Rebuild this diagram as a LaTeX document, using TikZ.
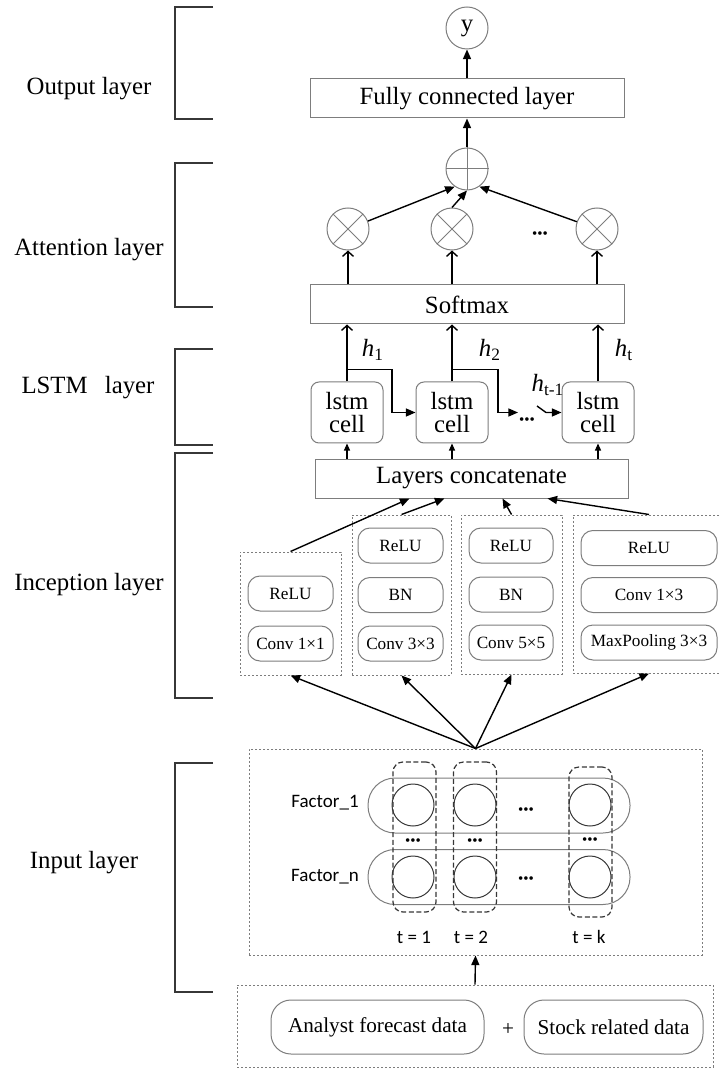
\documentclass[tikz,border=0pt]{standalone}
\usepackage{fontspec}
\setmainfont{Liberation Serif}
\newfontfamily\carlito{Carlito}
\usetikzlibrary{arrows.meta,calc}
\definecolor{bgray}{RGB}{125,125,125}
\definecolor{dgray}{RGB}{55,55,55}
\begin{document}
\begin{tikzpicture}[x=0.5pt,y=-0.5pt,
  big/.style={font=\fontsize{12.4}{14}\selectfont},
  small/.style={font=\fontsize{8.6}{10}\selectfont},
  wbox/.style={draw=bgray,line width=0.5pt,inner sep=0pt,big},
  cellbox/.style={draw=bgray,line width=0.5pt,inner sep=0pt,rounded corners=4pt,minimum width=36pt,minimum height=30.5pt,align=center,font=\fontsize{12.4}{11.5}\selectfont},
  dbox/.style={draw=bgray,line width=0.5pt,dash pattern=on 1.2pt off 0.8pt,inner sep=0pt},
  ibox/.style={draw=bgray,line width=0.5pt,rounded corners=6pt,inner sep=0pt,small,minimum height=17.5pt},
  circ/.style={circle,draw=bgray,line width=0.5pt,minimum size=21pt,inner sep=0pt},
  incirc/.style={circle,draw=dgray,line width=0.5pt,minimum size=21pt,inner sep=0pt},
  rowbox/.style={draw=bgray,line width=0.5pt,rounded corners=13.5pt,minimum width=131pt,minimum height=27.5pt,inner sep=0pt},
  colbox/.style={draw=dgray,line width=0.6pt,dash pattern=on 2.5pt off 1.3pt,rounded corners=5pt,minimum width=21.5pt,minimum height=75pt,inner sep=0pt},
  databox/.style={draw=bgray,line width=0.5pt,rounded corners=10pt,minimum height=27pt,inner sep=0pt,font=\fontsize{10.6}{12}\selectfont},
  arr/.style={-{Triangle[length=4.8pt,width=4pt]},line width=0.7pt},
  sarr/.style={-{Triangle[length=3.5pt,width=3pt]},line width=0.6pt},
  oarr/.style={-{Straight Barb[length=2.5pt,width=5.5pt]},line width=0.7pt},
  brk/.style={line width=0.8pt,draw=dgray},
  dots/.style={font=\fontsize{7.5}{8}\selectfont,inner sep=0pt,anchor=base},
  sans/.style={font=\carlito\fontsize{9.5}{11}\selectfont,inner sep=0pt},
  hlab/.style={font=\fontsize{12.4}{14}\selectfont,inner sep=0pt}
]
\useasboundingbox (0,0) rectangle (720,1068);
\begin{scope}
\clip (0,0) rectangle (720,1068);

% ---------- left brackets and layer names ----------
\draw[brk] (213,7) -- (175,7) -- (175,119) -- (213,119);
\draw[brk] (213,163) -- (175,163) -- (175,307) -- (213,307);
\draw[brk] (213,349) -- (175,349) -- (175,445) -- (213,445);
\draw[brk] (213,453) -- (175,453) -- (175,698) -- (213,698);
\draw[brk] (213,763) -- (175,763) -- (175,992) -- (213,992);
\node[big] (lout) at (89,89) {Output layer};
\node[big] (latt) at (89,250) {Attention layer};
\node[big] (llstm) at (88,388) {LSTM\hspace{5.5pt} layer};
\node[big] (linc) at (89,585) {Inception layer};
\node[big] (linp) at (84,863) {Input layer};

% ---------- output layer ----------
\node[circ,big] (y) at (467,28) {y};
\node[wbox,minimum width=157pt,minimum height=19.5pt] (fc) at (467,98.5) {Fully connected layer};

% ---------- attention layer ----------
\node[circ] (op) at (467,169) {};
\draw[bgray,line width=0.5pt] (op.north) -- (op.south) (op.west) -- (op.east);
\node[circ] (ot1) at (348,229) {};
\node[circ] (ot2) at (452,229) {};
\node[circ] (ot3) at (597,229) {};
\foreach \o in {ot1,ot2,ot3}
  \draw[bgray,line width=0.5pt] (\o.45) -- (\o.225) (\o.135) -- (\o.-45);
\node[dots] (adots) at (540,239) {•••};
\node[wbox,minimum width=157pt,minimum height=19.5pt] (sm) at (467,304.5) {Softmax};

\draw[arr] (fc.north) -- (y.south);
\draw[arr] (op.north) -- (fc.south);
\draw[arr] (ot1) -- (op.235);
\draw[arr] (ot2.north) -- (op.south);
\draw[arr] (ot3) -- (op.-55);
\foreach \o in {ot1,ot2,ot3}
  \draw[oarr] (\o.south |- sm.north) -- (\o.south);

% ---------- LSTM layer ----------
\node[cellbox] (c1) at (347,412.5) {lstm\\cell};
\node[cellbox] (c2) at (452,412.5) {lstm\\cell};
\node[cellbox] (c3) at (598,412.5) {lstm\\cell};
\foreach \c in {c1,c2,c3}
  \draw[oarr] (\c.north) -- (\c.north |- sm.south);
\node[hlab] (h1) at (373,350) {\textit{h}\textsubscript{1}};
\node[hlab] (h2) at (490,350) {\textit{h}\textsubscript{2}};
\node[hlab] (ht) at (624,350) {\textit{h}\textsubscript{t}};
\node[hlab] (htm) at (548,385) {\textit{h}\textsubscript{t-1}};
\node[dots] (ldots) at (527,424) {•••};
\coordinate (d1) at (518,412.5);
\coordinate (d2) at (537,406);
\draw[arr] ([yshift=6pt]c1.north) -- ++(45,0) |- (c2.west);
\draw[arr] ([yshift=6pt]c2.north) -- ++(46,0) |- (d1);
\draw[arr] (d2) -- (546,412.5) -- (c3.west);

\node[wbox,minimum width=156.5pt,minimum height=19.5pt] (cc) at (471.5,478.5) {Layers concatenate};
\foreach \c in {c1,c2,c3}
  \draw[sarr] (\c.south |- cc.north) -- (\c.south);

% ---------- inception layer ----------
\node[dbox,minimum width=50.5pt,minimum height=61.5pt] (b1) at (290.5,613.5) {};
\node[dbox,minimum width=49.5pt,minimum height=80pt] (b2) at (401.5,595) {};
\node[dbox,minimum width=50.5pt,minimum height=79.5pt] (b3) at (511.5,594.5) {};
\node[dbox,minimum width=76pt,minimum height=79pt] (b4) at (649,594) {};

\node[ibox,minimum width=42.5pt] (b1r) at (290.5,593.5) {ReLU};
\node[ibox,minimum width=42.5pt] (b1c) at (290.5,643.5) {Conv 1×1};
\node[ibox,minimum width=42.5pt] (b2r) at (400.5,545.5) {ReLU};
\node[ibox,minimum width=42.5pt] (b2b) at (400.5,595) {BN};
\node[ibox,minimum width=42.5pt] (b2c) at (400.5,643.5) {Conv 3×3};
\node[ibox,minimum width=42pt] (b3r) at (511,545.5) {ReLU};
\node[ibox,minimum width=42pt] (b3b) at (511,594.5) {BN};
\node[ibox,minimum width=42pt] (b3c) at (511,642.5) {Conv 5×5};
\node[ibox,minimum width=68pt] (b4r) at (649,548) {ReLU};
\node[ibox,minimum width=68pt] (b4c) at (649,595) {Conv 1×3};
\node[ibox,minimum width=68pt] (b4m) at (649,642.5) {MaxPooling 3×3};

\draw[arr] (b1.north) -- ($(cc.south west)+(95,0)$);
\draw[arr] (b2.north) -- ($(cc.south west)+(130,0)$);
\draw[arr] (b3.north) -- ($(cc.south west)+(188,0)$);
\draw[arr] (b4.north) -- ($(cc.south west)+(233,0)$);

% ---------- input layer ----------
\node[dbox,minimum width=226.5pt,minimum height=103pt] (inp) at (475.5,852) {};
\node[rowbox] (row1) at (499,805.5) {};
\node[rowbox] (rown) at (499,877) {};
\node[incirc] (x11) at (413,805) {};
\node[incirc] (x12) at (475,805) {};
\node[incirc] (x1k) at (590,805) {};
\node[incirc] (xn1) at (413,877) {};
\node[incirc] (xn2) at (475,877) {};
\node[incirc] (xnk) at (590,877) {};
\node[colbox] (t1) at (414.5,837) {};
\node[colbox] (t2) at (475,837) {};
\node[colbox] (tk) at (590.5,842) {};
\node[dots] (rd1) at (526,814) {•••};
\node[dots] (rdn) at (526,883) {•••};
\node[dots] (cd1) at (413,845) {•••};
\node[dots] (cd2) at (475,845) {•••};
\node[dots] (cdk) at (590,844) {•••};
\node[sans] (f1) at (325,803) {Factor\_1};
\node[sans] (fn) at (325,877) {Factor\_n};
\node[sans] (lt1) at (414,937) {t = 1};
\node[sans] (lt2) at (471,937) {t = 2};
\node[sans] (ltk) at (589,937) {t = k};

\foreach \b in {b1,b2,b3,b4}
  \draw[arr] (inp.north) -- (\b.south);

% ---------- data ----------
\node[dbox,minimum width=238pt,minimum height=41pt] (data) at (475,1026) {};
\node[databox,minimum width=106.5pt] (an) at (377.5,1027) {Analyst forecast data};
\node[databox,minimum width=89.5pt] (st) at (613.5,1027) {Stock related data};
\node[font=\fontsize{10.6}{12}\selectfont,inner sep=0pt] (plus) at (508,1029) {+};
\draw[arr] (data.north) -- (inp.south);
\end{scope}
\end{tikzpicture}
\end{document}
